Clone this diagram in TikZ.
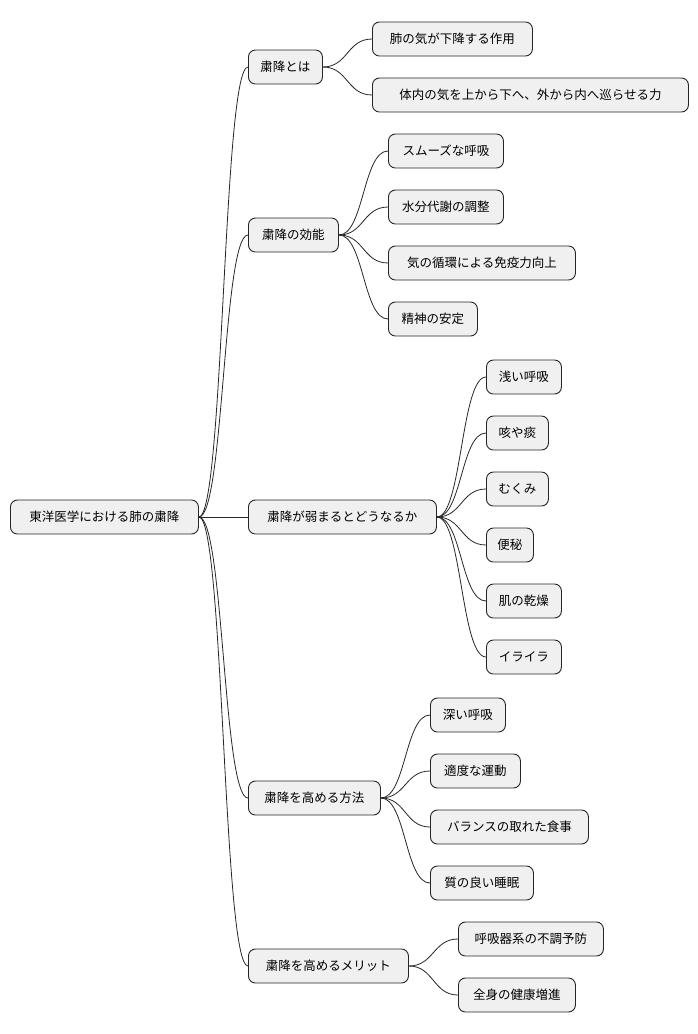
\documentclass[tikz,border=0pt]{standalone}
\usepackage{fontspec}
\setmainfont{Noto Sans CJK JP}
\begin{document}
\begin{tikzpicture}[x=1pt,y=-1pt,
  box/.style={draw=black!85,fill=black!6,rounded corners=7pt,line width=0.9pt,minimum height=34pt,inner sep=0pt,font=\fontsize{12.5pt}{14pt}\selectfont,anchor=west},
  conn/.style={draw=black!85,line width=0.8pt}]
\useasboundingbox (0,0) rectangle (698,1034);
\newcommand\bx[5]{\node[box,minimum width=#4pt] (#1) at (#2,#3) {#5};}
\bx{r}{10}{517}{188}{東洋医学における肺の粛降}
\bx{a}{248}{67}{74}{粛降とは}
\bx{b}{248}{235}{90}{粛降の効能}
\bx{c}{248}{517}{188}{粛降が弱まるとどうなるか}
\bx{d}{248}{798}{132}{粛降を高める方法}
\bx{e}{248}{966}{160}{粛降を高めるメリット}
\bx{a1}{372}{39}{160}{肺の気が下降する作用}
\bx{a2}{372}{95}{316}{体内の気を上から下へ、外から内へ巡らせる力}
\bx{b1}{388}{151}{115}{スムーズな呼吸}
\bx{b2}{388}{207}{115}{水分代謝の調整}
\bx{b3}{388}{263}{187}{気の循環による免疫力向上}
\bx{b4}{388}{319}{89}{精神の安定}
\bx{c1}{486}{377}{75}{浅い呼吸}
\bx{c2}{486}{433}{62}{咳や痰}
\bx{c3}{486}{489}{62}{むくみ}
\bx{c4}{486}{545}{47}{便秘}
\bx{c5}{486}{601}{75}{肌の乾燥}
\bx{c6}{486}{657}{75}{イライラ}
\bx{d1}{430}{715}{75}{深い呼吸}
\bx{d2}{430}{771}{90}{適度な運動}
\bx{d3}{430}{827}{158}{バランスの取れた食事}
\bx{d4}{430}{883}{103}{質の良い睡眠}
\bx{e1}{458}{939}{145}{呼吸器系の不調予防}
\bx{e2}{458}{995}{117}{全身の健康増進}
\foreach \p/\cs in {r/{a,b,c,d,e},a/{a1,a2},b/{b1,b2,b3,b4},c/{c1,c2,c3,c4,c5,c6},d/{d1,d2,d3,d4},e/{e1,e2}}{
  \foreach \ch in \cs {
    \draw[conn] (\p.east) .. controls ([xshift=25pt]\p.east) and ([xshift=-25pt]\ch.west) .. (\ch.west);
  }
}
\end{tikzpicture}
\end{document}
